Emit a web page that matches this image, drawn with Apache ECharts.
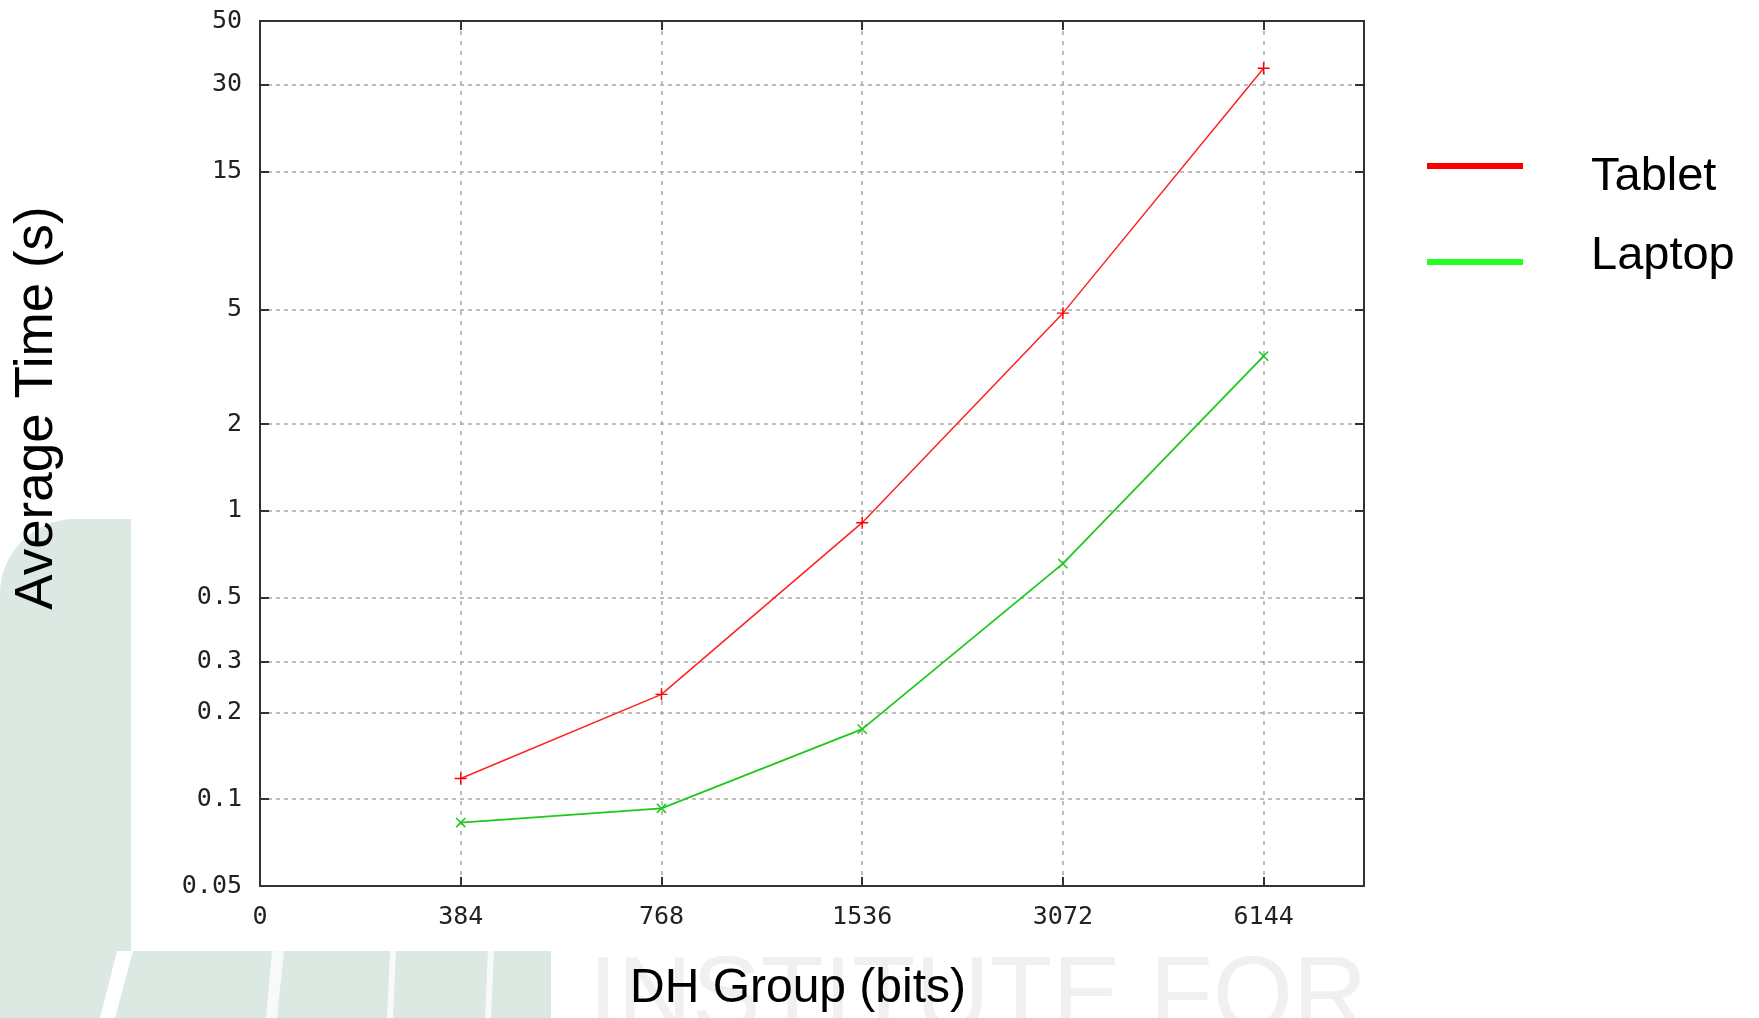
<!DOCTYPE html>
<html>
<head>
<meta charset="utf-8">
<script src="https://cdn.jsdelivr.net/npm/echarts@6/dist/echarts.min.js"></script>
<style>
html,body{margin:0;padding:0;background:#fff;}
#chart{width:1759px;height:1018px;}
</style>
</head>
<body>
<div id="chart"></div>
<script>
// ---- data ----
const xTickLabels = ['0', '384', '768', '1536', '3072', '6144'];
const groupPos = [1, 2, 3, 4, 5];           // positions of 384 ... 6144 on the x axis
const yTickValues = [0.05, 0.1, 0.2, 0.3, 0.5, 1, 2, 5, 15, 30, 50];
const tablet = [0.118, 0.231, 0.91, 4.85, 34.3];
const laptop = [0.083, 0.093, 0.175, 0.656, 3.44];
const seriesNames = ['Tablet', 'Laptop'];

const chart = echarts.init(document.getElementById('chart'), null, {renderer: 'canvas'});

const plusPath = 'path://M4.4,0h1.2v10h-1.2zM0,4.4h10v1.2h-10z';
const axisColor = '#333';
const gridColor = '#a8a8a8';
const monoFont = 'DejaVu Sans Mono';
const sansFont = 'Liberation Sans';

const toPairs = (vals) => vals.map((v, i) => [groupPos[i], v]);

const xBase = {
  type: 'value', min: 0, max: 5.5, interval: 1,
  axisLine: {show: true, onZero: false, lineStyle: {color: axisColor, width: 2}},
  axisTick: {show: true, inside: true, length: 9, lineStyle: {color: axisColor, width: 2}},
};
const yBase = {
  type: 'log', logBase: 10, min: 0.05, max: 50,
  axisLine: {show: true, onZero: false, lineStyle: {color: axisColor, width: 2}},
  axisTick: {show: true, inside: true, length: 9, customValues: yTickValues, lineStyle: {color: axisColor, width: 2}},
};

const legendText = {fontFamily: sansFont, fontSize: 47, color: '#000', lineHeight: 50, height: 50};

const option = {
  backgroundColor: 'transparent',
  animation: false,
  graphic: [
    {type: 'rect', z: -10, silent: true,
     shape: {x: 0, y: 519, width: 131, height: 499, r: [75, 0, 0, 0]},
     style: {fill: '#dce9e2'}},
    {type: 'rect', z: -10, silent: true,
     shape: {x: 0, y: 951, width: 551, height: 67},
     style: {fill: '#dce9e2'}},
    {type: 'polygon', z: -9, silent: true, shape: {points: [[117,951],[133,951],[115,1018],[100,1018]]}, style: {fill: '#ffffff'}},
    {type: 'polygon', z: -9, silent: true, shape: {points: [[272,951],[284,951],[277,1018],[266,1018]]}, style: {fill: '#f7faf8'}},
    {type: 'polygon', z: -9, silent: true, shape: {points: [[390,951],[396,951],[393,1018],[387,1018]]}, style: {fill: '#f7faf8'}},
    {type: 'polygon', z: -9, silent: true, shape: {points: [[488,951],[494,951],[491,1018],[485,1018]]}, style: {fill: '#f7faf8'}},
    {type: 'text', z: -9, silent: true, x: 589, y: 1001,
     style: {text: 'INSTITUTE FOR', font: '103px "Liberation Sans"', fill: '#eef1f0', verticalAlign: 'middle', align: 'left'}}
  ],
  grid: {left: 260, top: 21, width: 1104, height: 865, containLabel: false},
  legend: {
    orient: 'vertical', left: 1427, top: 129.5, padding: 0,
    itemWidth: 96, itemHeight: 6, itemGap: 28.5,
    icon: 'rect',
    formatter: (name) => name === seriesNames[0] ? '{g|}{b|' + name + '}' : '{h|}{t|' + name + '}',
    textStyle: {
      fontFamily: sansFont, fontSize: 47, color: '#000',
      rich: {
        g: {width: 63, height: 73, lineHeight: 73},
        h: {width: 63, height: 62, lineHeight: 62},
        b: Object.assign({verticalAlign: 'bottom'}, legendText),
        t: Object.assign({verticalAlign: 'top'}, legendText)
      }
    },
    data: [
      {name: seriesNames[0], icon: 'rect', itemStyle: {color: '#ff0000'}},
      {name: seriesNames[1], icon: 'rect', itemStyle: {color: '#22ff22'}}
    ]
  },
  xAxis: [
    Object.assign({}, xBase, {
      position: 'bottom',
      name: 'DH Group (bits)', nameLocation: 'middle', nameGap: 79,
      nameTextStyle: {fontFamily: sansFont, fontSize: 48, color: '#000', padding: [0, 28, 0, 0]},
      axisLabel: {show: true, margin: 19, fontFamily: monoFont, fontSize: 25, color: '#222',
        showMaxLabel: false,
        formatter: (v) => (Number.isInteger(v) && xTickLabels[v] !== undefined) ? xTickLabels[v] : ''},
      splitLine: {show: true, lineStyle: {color: gridColor, width: 1.5, type: [4, 6]}}
    }),
    Object.assign({}, xBase, {
      position: 'top',
      axisLabel: {show: false},
      splitLine: {show: false}
    })
  ],
  yAxis: [
    Object.assign({}, yBase, {
      position: 'left',
      name: 'Average Time (s)', nameLocation: 'middle', nameGap: 196,
      nameTextStyle: {fontFamily: sansFont, fontSize: 53, color: '#000', padding: [0, 0, 0, 91]},
      axisLabel: {show: true, margin: 18, fontFamily: monoFont, fontSize: 25, color: '#222',
        customValues: yTickValues,
        formatter: (v) => String(+(+v).toPrecision(6))},
      splitLine: {show: true, lineStyle: {color: gridColor, width: 1.5, type: [4, 4]}}
    }),
    Object.assign({}, yBase, {
      position: 'right',
      axisLabel: {show: false, customValues: yTickValues},
      splitLine: {show: false}
    })
  ],
  series: [
    {
      name: seriesNames[0], type: 'line', xAxisIndex: 0, yAxisIndex: 0,
      data: toPairs(tablet),
      symbol: plusPath, symbolSize: 12, showAllSymbol: true,
      itemStyle: {color: '#ff0000'},
      lineStyle: {color: '#ff2020', width: 1.5},
      z: 3
    },
    {
      name: seriesNames[1], type: 'line', xAxisIndex: 0, yAxisIndex: 0,
      data: toPairs(laptop),
      symbol: plusPath, symbolRotate: 45, symbolSize: 13, showAllSymbol: true,
      itemStyle: {color: '#1ec81e'},
      lineStyle: {color: '#1ec81e', width: 1.8},
      z: 3
    }
  ]
};
chart.setOption(option);
</script>
</body>
</html>
